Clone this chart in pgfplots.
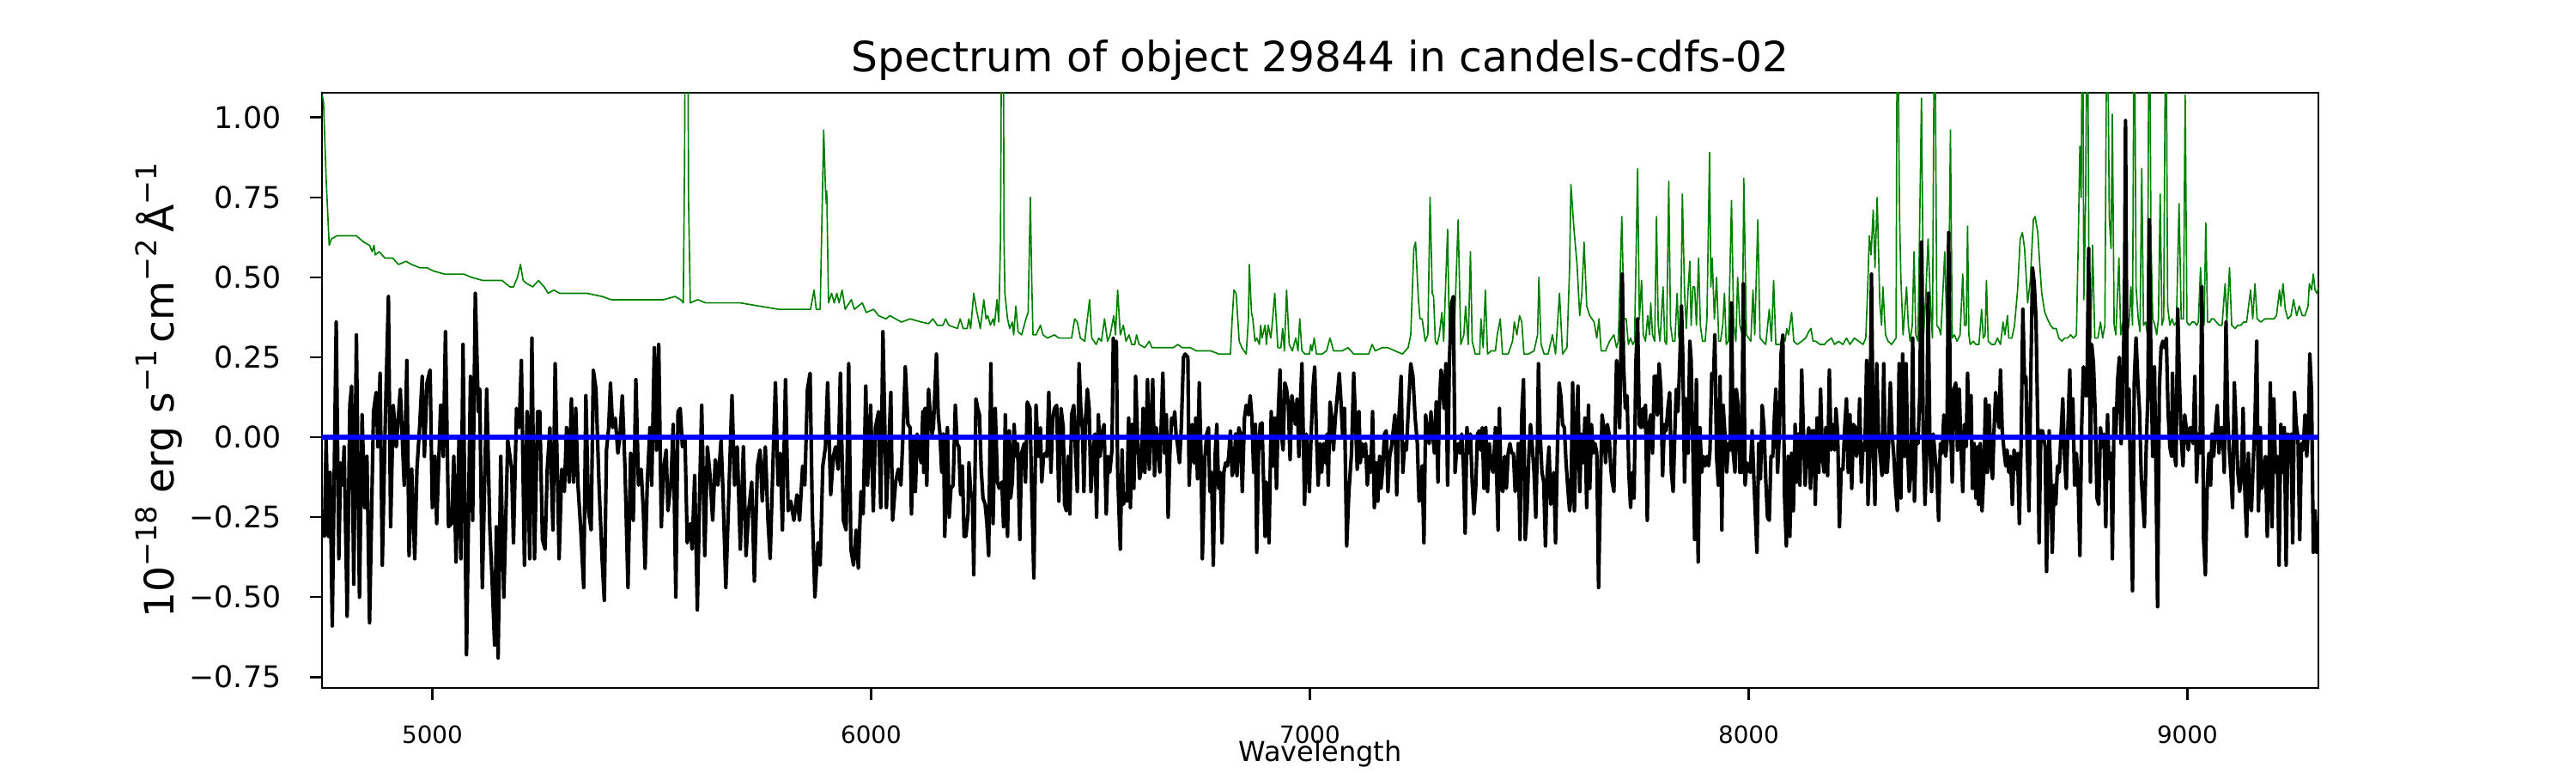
\documentclass[border=0pt]{standalone}
\usepackage{pgfplots}
\pgfplotsset{compat=1.18}
\usepackage{fontspec}
\setmainfont{DejaVu Sans}
\definecolor{mplgreen}{RGB}{0,128,0}
\newcommand\sups[1]{\raisebox{0.42em}{\fontsize{12}{14}\selectfont #1}}
\begin{document}
\begin{tikzpicture}
\useasboundingbox (0,0) rectangle (1080pt,324pt);
\begin{axis}[
 at={(135pt,35.64pt)}, anchor=south west,
 scale only axis, width=837pt, height=249.48pt,
 xmin=4748.6, xmax=9298.6, ymin=-0.784, ymax=1.077,
 xtick={5000,6000,7000,8000,9000}, xticklabels={5000,6000,7000,8000,9000},
 ytick={-0.75,-0.5,-0.25,0,0.25,0.5,0.75,1},
 yticklabels={−0.75,−0.50,−0.25,0.00,0.25,0.50,0.75,1.00},
 tick pos=left, tick align=outside, major tick length=5pt,
 tick style={black, line width=0.9pt},
 axis line style={line width=0.9pt},
 minor tick num=0,
 xticklabel style={font=\fontsize{10}{12}\selectfont, anchor=base, inner sep=0pt, yshift=-18.2pt},
 yticklabel style={font=\fontsize{12.5}{15}\selectfont, anchor=east, inner sep=0pt, xshift=-12pt},
 title={Spectrum of object 29844 in candels-cdfs-02},
 every axis title/.style={at={(axis description cs:0.5,1.036)}, anchor=base, font=\fontsize{17.5}{21}\selectfont, inner sep=0pt},
 xlabel={Wavelength},
 every axis x label/.style={at={(axis description cs:0.5,-0.1239)}, anchor=base, font=\fontsize{11.5}{14}\selectfont, inner sep=0pt},
 ylabel={10\sups{−18} erg s\sups{−1}\,cm\sups{−2}\,Å\sups{−1}},
 every axis y label/.style={at={(axis description cs:-0.0741,0.5)}, rotate=90, anchor=base, font=\fontsize{17}{20}\selectfont, inner sep=0pt},
 clip=true,
]
% sky / noise (green)
\addplot[mplgreen, line width=0.6pt, line join=round] coordinates {
(4749,1.07)(4752,1.05)(4758,0.81)(4765,0.60)(4770,0.62)(4783,0.63)(4800,0.63)(4813,0.63)(4827,0.63)(4835,0.62)(4844,0.61)(4857,0.60)(4863,0.58)(4867,0.60)(4870,0.57)(4879,0.58)(4892,0.56)(4910,0.56)(4923,0.54)(4940,0.55)(4953,0.54)(4971,0.53)(4988,0.53)(5002,0.52)(5028,0.51)(5045,0.51)(5072,0.51)(5089,0.50)(5115,0.49)(5142,0.49)(5159,0.49)(5168,0.48)(5177,0.47)(5185,0.47)(5194,0.50)(5201,0.54)(5207,0.49)(5216,0.48)(5229,0.47)(5242,0.49)(5255,0.47)(5264,0.45)(5277,0.46)(5290,0.45)(5317,0.45)(5352,0.45)(5387,0.44)(5408,0.43)(5439,0.43)(5483,0.43)(5527,0.43)(5553,0.44)(5566,0.43)(5572,0.42)(5575,0.87)(5577,1.5)(5582,1.5)(5584,0.74)(5588,0.42)(5605,0.43)(5623,0.42)(5649,0.42)(5675,0.42)(5702,0.42)(5745,0.41)(5789,0.40)(5833,0.40)(5862,0.40)(5870,0.46)(5875,0.40)(5884,0.40)(5892,0.96)(5896,0.78)(5898,0.73)(5899,0.77)(5903,0.42)(5910,0.45)(5916,0.42)(5922,0.45)(5927,0.42)(5934,0.46)(5941,0.40)(5955,0.43)(5962,0.40)(5980,0.42)(5989,0.39)(6006,0.40)(6017,0.38)(6034,0.37)(6043,0.38)(6069,0.36)
(6089,0.37)(6115,0.36)(6131,0.355)(6141,0.37)(6151,0.35)(6164,0.35)(6170,0.37)(6177,0.35)(6197,0.34)(6203,0.37)(6210,0.34)(6219,0.34)(6223,0.37)(6227,0.34)(6234,0.45)(6240,0.40)(6249,0.34)(6257,0.43)(6262,0.37)(6266,0.38)(6272,0.35)(6278,0.37)(6281,0.35)(6287,0.43)(6291,0.36)(6295,0.62)(6298,1.5)(6301,1.5)(6303,0.62)(6305,0.45)(6311,0.37)(6316,0.34)(6322,0.36)(6325,0.32)(6330,0.41)(6335,0.33)(6343,0.32)(6353,0.37)(6358,0.39)(6363,0.75)(6366,0.50)(6369,0.32)(6376,0.32)(6386,0.35)(6392,0.32)(6402,0.31)(6418,0.32)(6428,0.31)(6448,0.31)(6457,0.31)(6464,0.37)(6470,0.36)(6477,0.31)(6487,0.30)(6498,0.43)(6503,0.31)(6513,0.29)(6519,0.31)(6525,0.30)(6532,0.37)(6539,0.30)(6545,0.32)(6553,0.38)(6557,0.32)(6562,0.46)(6568,0.32)(6575,0.35)(6581,0.30)(6588,0.32)(6594,0.29)(6601,0.29)(6605,0.32)(6611,0.29)(6624,0.28)(6634,0.30)(6640,0.28)(6663,0.28)(6689,0.28)(6699,0.29)(6709,0.28)(6728,0.28)(6741,0.27)(6774,0.27)(6793,0.26)(6819,0.26)(6823,0.37)(6827,0.46)(6832,0.45)(6839,0.30)(6845,0.28)(6855,0.26)(6860,0.37)(6862,0.54)(6867,0.39)(6870,0.37)(6875,0.30)(6879,0.31)(6885,0.29)(6888,0.35)
(6891,0.31)(6898,0.35)(6901,0.29)(6905,0.35)(6911,0.31)(6914,0.35)(6920,0.45)(6927,0.28)(6934,0.28)(6938,0.34)(6942,0.27)(6947,0.46)(6953,0.29)(6960,0.27)(6968,0.31)(6973,0.27)(6977,0.37)(6982,0.27)(6989,0.26)(6999,0.26)(7002,0.29)(7005,0.27)(7010,0.31)(7015,0.26)(7028,0.26)(7038,0.27)(7046,0.31)(7054,0.27)(7064,0.27)(7074,0.27)(7087,0.28)(7100,0.26)(7119,0.26)(7134,0.26)(7142,0.29)(7149,0.27)(7165,0.28)(7178,0.28)(7194,0.27)(7211,0.26)(7224,0.28)(7230,0.32)(7237,0.59)(7241,0.61)(7247,0.44)(7251,0.37)(7256,0.37)(7263,0.30)(7269,0.32)(7274,0.75)(7279,0.45)(7282,0.44)(7286,0.30)(7290,0.29)(7295,0.32)(7301,0.39)(7305,0.30)(7314,0.65)(7318,0.30)(7325,0.29)(7329,0.32)(7338,0.68)(7344,0.29)(7351,0.32)(7355,0.41)(7361,0.29)(7366,0.58)(7370,0.30)(7377,0.26)(7387,0.26)(7390,0.37)(7395,0.28)(7400,0.46)(7405,0.26)(7413,0.27)(7423,0.27)(7427,0.32)(7434,0.37)(7439,0.26)(7452,0.26)(7462,0.30)(7466,0.36)(7472,0.32)(7478,0.38)(7483,0.36)(7488,0.26)(7498,0.26)(7511,0.27)(7519,0.32)(7522,0.50)(7527,0.29)(7534,0.26)(7543,0.26)(7553,0.32)(7560,0.26)(7569,0.45)(7576,0.26)(7586,0.28)(7592,0.53)(7595,0.79)(7602,0.65)(7609,0.54)(7615,0.38)(7620,0.45)(7625,0.61)(7631,0.41)(7638,0.38)(7648,0.36)(7654,0.31)(7659,0.37)(7664,0.27)(7674,0.27)(7683,0.30)
(7693,0.32)(7699,0.28)(7703,0.30)(7711,0.69)(7716,0.37)(7721,0.37)(7726,0.29)(7731,0.31)(7736,0.29)(7740,0.30)(7747,0.84)(7751,0.37)(7756,0.49)(7760,0.32)(7765,0.30)(7770,0.38)(7774,0.32)(7777,0.42)(7781,0.32)(7786,0.30)(7790,0.69)(7794,0.35)(7798,0.30)(7801,0.37)(7805,0.47)(7809,0.30)(7813,0.29)(7818,0.80)(7822,0.35)(7827,0.30)(7832,0.30)(7837,0.45)(7841,0.31)(7845,0.32)(7849,0.76)(7854,0.45)(7858,0.34)(7862,0.46)(7866,0.55)(7869,0.35)(7873,0.47)(7877,0.47)(7881,0.35)(7886,0.56)(7890,0.35)(7895,0.30)(7901,0.30)(7905,0.37)(7911,0.89)(7914,0.47)(7917,0.56)(7922,0.37)(7927,0.50)(7932,0.30)(7936,0.30)(7941,0.35)(7945,0.45)(7949,0.29)(7954,0.30)(7961,0.74)(7966,0.35)(7971,0.30)(7975,0.50)(7980,0.35)(7986,0.32)(7989,0.81)(7995,0.32)(8000,0.31)(8005,0.30)(8010,0.46)(8014,0.32)(8021,0.68)(8026,0.31)(8032,0.30)(8039,0.29)(8047,0.40)(8052,0.30)(8057,0.49)(8062,0.29)(8072,0.29)(8078,0.32)(8083,0.30)(8087,0.34)(8091,0.32)(8098,0.39)(8103,0.30)(8111,0.29)(8121,0.30)(8130,0.31)(8137,0.33)(8142,0.34)(8147,0.30)(8153,0.30)(8163,0.29)(8173,0.29)(8179,0.30)(8189,0.31)(8196,0.29)(8205,0.30)(8215,0.29)(8223,0.31)(8231,0.29)(8241,0.31)(8251,0.30)(8261,0.29)(8267,0.31)(8271,0.45)(8275,0.63)(8279,0.57)(8284,0.71)(8288,0.53)(8293,0.75)(8299,0.42)(8303,0.35)(8306,0.47)(8312,0.32)(8318,0.30)(8326,0.29)(8336,0.31)(8339,1.5)(8344,0.69)(8347,0.50)(8352,0.32)(8360,0.47)(8364,0.35)(8368,0.30)(8373,0.35)(8377,0.58)(8381,0.32)(8386,0.30)(8394,1.06)(8399,0.32)(8404,0.45)(8409,0.62)(8415,0.40)(8419,0.31)(8424,1.5)(8429,0.35)(8434,0.34)(8438,0.32)(8443,0.46)(8447,0.58)(8451,0.38)(8455,0.30)(8460,0.96)(8464,0.31)(8469,0.32)(8475,0.30)(8482,0.32)(8488,0.51)(8492,0.35)
(8496,0.35)(8499,0.66)(8502,0.32)(8505,0.29)(8512,0.30)(8518,0.29)(8525,0.29)(8531,0.40)(8535,0.31)(8539,0.32)(8542,0.49)(8546,0.30)(8554,0.29)(8561,0.29)(8567,0.31)(8574,0.29)(8580,0.36)(8584,0.32)(8590,0.38)(8593,0.31)(8600,0.31)(8606,0.35)(8613,0.46)(8619,0.62)(8624,0.64)(8629,0.59)(8636,0.42)(8642,0.49)(8649,0.68)(8653,0.69)(8659,0.64)(8664,0.53)(8668,0.45)(8675,0.39)(8681,0.37)(8688,0.35)(8694,0.34)(8701,0.34)(8707,0.31)(8714,0.30)(8720,0.31)(8727,0.31)(8734,0.32)(8740,0.31)(8747,0.32)(8751,0.59)(8755,0.91)(8758,0.75)(8761,1.5)(8764,0.43)(8768,0.74)(8772,1.5)(8776,0.42)(8780,0.31)(8784,0.60)(8789,0.31)(8796,0.31)(8802,0.36)(8807,0.31)(8812,0.35)(8817,1.5)(8822,0.69)(8826,0.59)(8829,1.01)(8833,0.35)(8837,0.32)(8844,0.56)(8848,0.32)(8853,0.36)(8858,0.35)(8862,0.32)(8867,0.35)(8871,0.47)(8875,0.35)(8879,1.5)(8883,0.47)(8888,0.37)(8892,0.33)(8896,0.84)(8900,0.35)(8905,0.36)(8909,0.32)(8913,1.5)(8917,0.62)(8921,0.37)(8926,0.35)(8930,0.32)(8934,0.37)(8938,0.76)(8942,0.35)(8946,0.37)(8951,1.5)(8955,0.41)(8960,0.35)(8965,0.37)(8970,0.35)(8975,0.36)(8981,0.73)(8986,0.37)(8991,0.37)(8995,1.07)(8999,0.36)(9004,0.35)(9011,0.36)(9016,0.36)(9021,0.35)(9025,0.36)(9030,0.53)(9034,0.42)(9038,0.35)(9042,0.67)(9046,0.36)(9051,0.36)(9055,0.37)(9060,0.37)(9066,0.36)(9073,0.35)(9079,0.35)(9086,0.48)(9090,0.36)(9096,0.53)(9101,0.35)(9109,0.34)(9115,0.35)(9122,0.35)(9128,0.36)(9135,0.36)(9144,0.46)(9149,0.37)(9154,0.48)(9159,0.37)(9167,0.36)(9177,0.37)(9187,0.37)(9197,0.37)(9203,0.38)(9210,0.46)(9213,0.41)(9218,0.48)(9223,0.40)(9229,0.37)(9236,0.38)(9242,0.43)(9249,0.38)(9255,0.41)(9262,0.38)(9268,0.38)(9275,0.41)(9278,0.48)(9283,0.46)(9287,0.51)(9291,0.46)(9295,0.45)(9299,0.47)
};
% flux (black)
\addplot[black, line width=1.5pt, line join=round] coordinates {
(4749,-0.29)(4754,-0.31)(4758,-0.01)(4763,-0.31)(4767,-0.11)(4772,-0.59)(4781,0.36)(4787,-0.38)(4791,-0.08)(4796,-0.15)(4799,-0.03)(4806,-0.56)(4812,0.10)(4816,0.16)(4821,-0.46)(4827,0.32)(4834,-0.50)(4840,0.07)(4846,-0.22)(4851,-0.06)(4857,-0.58)(4866,0.08)(4872,0.14)(4876,-0.03)(4881,0.20)(4886,-0.40)(4893,0.06)(4900,0.44)(4905,-0.28)(4911,0.10)(4918,-0.03)(4927,0.15)(4936,-0.15)(4942,0.24)(4947,-0.37)(4953,-0.10)(4960,-0.38)(4965,-0.10)(4971,0.03)(4977,0.19)(4982,-0.06)(4988,0.17)(4995,0.21)(5000,-0.22)(5006,-0.06)(5010,-0.27)(5019,0.10)(5025,-0.06)(5030,0.33)(5037,-0.28)(5044,-0.27)(5049,-0.06)(5054,-0.39)(5061,0.00)(5065,-0.38)(5070,0.29)(5078,-0.68)(5087,0.19)(5092,-0.26)(5098,0.45)(5105,0.08)(5108,0.15)(5114,-0.47)(5124,0.15)(5131,-0.28)(5137,-0.47)(5142,-0.65)(5146,-0.28)(5150,-0.69)(5156,-0.06)(5163,-0.50)(5172,-0.01)(5181,-0.10)(5185,-0.33)(5192,0.09)(5198,0.03)(5203,0.24)(5210,-0.40)(5216,0.08)(5222,-0.38)(5227,0.31)(5233,-0.38)(5240,0.08)(5245,0.08)(5251,-0.32)(5257,-0.35)(5262,-0.10)(5268,0.03)(5275,-0.29)(5280,0.23)(5289,-0.38)(5295,-0.10)(5301,-0.17)(5306,0.03)(5312,-0.14)(5317,0.12)(5322,-0.14)(5327,0.09)(5332,-0.15)(5338,-0.28)(5345,-0.47)(5350,0.13)(5356,-0.23)(5362,-0.29)(5367,0.21)(5373,0.15)(5380,-0.15)(5387,-0.38)(5392,-0.51)(5397,-0.04)(5402,0.03)(5406,0.17)(5411,0.03)(5417,0.06)(5423,-0.05)(5428,0.01)(5433,0.13)(5439,-0.09)(5446,-0.47)(5452,-0.05)(5458,-0.26)(5464,0.18)(5470,-0.15)(5476,-0.10)(5481,-0.23)(5485,-0.41)(5490,-0.14)(5496,0.03)(5500,-0.15)(5506,0.28)(5511,-0.04)(5516,0.29)(5522,-0.28)(5527,-0.10)(5533,-0.04)(5537,-0.23)(5544,-0.14)(5549,0.04)(5555,-0.50)(5560,0.08)(5565,0.09)(5570,-0.03)(5576,-0.01)(5581,-0.33)(5588,-0.27)(5592,-0.35)(5598,-0.12)(5604,-0.54)(5610,-0.13)(5614,0.10)(5621,-0.37)(5627,-0.03)(5633,-0.12)(5639,-0.26)(5645,-0.07)(5651,-0.15)(5658,-0.01)(5662,-0.15)(5669,-0.47)(5676,-0.17)(5683,0.13)(5689,-0.15)(5695,-0.03)(5702,-0.35)(5709,-0.03)(5715,-0.37)(5721,-0.23)(5728,-0.14)(5734,-0.45)(5741,-0.09)(5747,-0.04)(5752,-0.20)(5759,-0.03)(5765,-0.26)(5770,-0.38)(5776,-0.10)(5782,0.17)(5788,-0.15)(5793,-0.05)(5798,-0.29)(5805,0.18)(5811,-0.23)(5817,-0.20)(5824,-0.26)(5831,-0.18)(5837,-0.26)(5844,-0.09)(5849,-0.15)(5855,0.15)(5861,0.20)(5866,-0.23)(5872,-0.50)(5879,-0.33)(5884,-0.40)(5890,-0.09)(5896,-0.03)(5901,0.17)(5908,-0.18)(5914,-0.06)(5919,-0.03)(5925,-0.10)(5930,0.20)(5937,-0.26)(5943,-0.29)(5949,0.23)(5954,-0.35)(5960,-0.40)(5966,-0.29)(5971,-0.41)(5977,-0.17)(5982,-0.24)(5988,0.16)(5992,-0.15)(5999,0.10)(6005,-0.23)(6010,0.03)(6017,0.08)(6022,-0.22)(6027,0.33)(6035,-0.22)(6041,-0.01)(6045,0.14)(6049,-0.26)(6056,-0.14)(6062,-0.10)(6068,-0.15)(6074,0.05)(6078,0.22)(6084,0.04)
(6089,0.03)(6092,-0.24)(6097,0.00)(6101,-0.17)(6105,0.01)(6110,-0.04)(6114,-0.08)(6118,0.08)(6120,-0.11)(6123,0.09)(6127,-0.15)(6131,0.15)(6135,0.07)(6139,0.01)(6142,0.03)(6149,0.26)(6153,0.07)(6157,0.01)(6161,-0.11)(6165,0.01)(6168,-0.31)(6174,0.03)(6178,-0.25)(6182,-0.16)(6187,-0.15)(6192,0.10)(6196,-0.02)(6200,-0.03)(6204,-0.18)(6208,-0.09)(6212,-0.31)(6216,-0.31)(6221,-0.24)(6223,-0.08)(6227,-0.17)(6231,-0.19)(6234,-0.43)(6239,0.12)(6243,0.09)(6247,0.07)(6251,-0.10)(6255,-0.19)(6260,-0.21)(6264,-0.27)(6268,-0.37)(6273,0.23)(6278,-0.27)(6283,0.09)(6288,-0.14)(6292,-0.16)(6298,-0.14)(6302,-0.28)(6306,0.07)(6311,-0.31)(6315,0.02)(6318,-0.19)(6322,-0.14)(6326,0.04)(6330,-0.06)(6334,-0.02)(6339,-0.32)(6343,-0.05)(6349,-0.02)(6352,-0.14)(6356,0.11)(6362,0.09)(6366,-0.16)(6371,-0.44)(6376,0.10)(6381,-0.06)(6386,0.03)(6389,-0.14)(6393,-0.06)(6397,-0.05)(6401,-0.06)(6405,0.14)(6410,-0.11)(6414,0.06)(6418,0.09)(6423,0.10)(6428,-0.20)(6433,0.09)(6438,0.03)(6441,-0.21)(6445,-0.23)(6449,-0.06)(6453,-0.24)(6457,0.07)(6462,0.10)(6466,-0.05)(6470,-0.17)(6474,0.23)(6478,0.09)(6482,0.02)(6485,-0.17)(6489,0.06)(6493,0.15)(6497,0.09)(6501,-0.17)(6506,-0.05)(6510,0.01)(6514,-0.25)(6518,0.07)(6522,-0.06)(6526,0.01)(6531,0.04)(6536,-0.24)(6540,-0.06)(6544,-0.11)(6549,-0.04)(6552,0.31)(6556,0.25)(6559,0.30)(6562,-0.11)(6568,-0.35)(6572,-0.04)(6575,-0.21)(6579,-0.19)(6583,-0.20)(6587,0.06)(6591,-0.22)(6595,0.04)(6599,-0.16)(6603,0.19)(6607,0.01)(6612,-0.13)(6616,-0.10)(6620,0.09)(6624,-0.11)(6628,0.06)(6630,0.18)(6634,-0.10)(6638,0.04)(6642,0.18)(6646,-0.12)(6650,0.03)(6654,-0.02)(6658,-0.11)(6662,0.07)(6665,0.20)(6669,-0.05)(6673,0.07)(6677,-0.25)(6681,-0.05)(6685,0.06)(6689,0.04)(6692,0.08)(6695,0.01)(6699,-0.03)(6703,-0.08)(6707,0.03)(6712,0.25)(6716,0.26)(6722,0.25)(6725,-0.15)(6728,-0.04)(6732,0.04)(6736,-0.08)(6740,0.06)(6744,-0.13)(6748,0.17)(6752,-0.06)(6755,-0.38)(6761,-0.06)(6765,0.01)(6769,0.03)(6772,-0.17)(6776,-0.11)(6780,-0.40)(6784,-0.06)(6788,0.04)(6792,-0.16)(6796,-0.11)(6800,-0.33)(6804,-0.11)(6808,-0.08)(6812,-0.09)(6815,-0.06)(6819,0.02)(6823,-0.12)(6827,-0.10)(6831,0.01)(6834,-0.12)(6838,0.03)(6842,0.01)(6846,-0.17)(6851,0.06)(6855,0.10)(6860,0.07)(6864,0.13)(6868,0.06)(6872,-0.11)(6876,0.04)(6879,-0.36)(6883,-0.05)(6887,0.04)
(6891,0.045)(6894,-0.11)(6898,-0.31)(6901,-0.14)(6904,-0.17)(6907,-0.33)(6912,0.08)(6916,-0.09)(6920,0.06)(6924,-0.16)(6928,0.08)(6932,0.21)(6935,0.01)(6939,-0.04)(6943,0.17)(6947,0.15)(6951,0.10)(6955,-0.07)(6959,0.13)(6963,0.09)(6967,0.04)(6971,0.12)(6975,-0.06)(6979,0.13)(6982,0.23)(6988,-0.21)(6992,0.01)(6995,-0.05)(6999,-0.17)(7003,0.01)(7007,0.15)(7011,0.22)(7015,0.01)(7019,-0.15)(7023,-0.02)(7027,-0.11)(7031,-0.02)(7035,-0.08)(7039,0.01)(7042,-0.15)(7046,0.11)(7050,0.06)(7054,-0.04)(7058,0.06)(7062,0.12)(7067,0.20)(7071,0.11)(7075,0.00)(7079,0.09)(7084,-0.34)(7089,-0.17)(7095,-0.05)(7100,0.20)(7104,0.05)(7108,-0.10)(7112,0.08)(7115,-0.08)(7119,-0.02)(7123,-0.06)(7127,-0.02)(7131,-0.15)(7135,-0.06)(7139,-0.11)(7143,0.08)(7147,-0.22)(7151,-0.08)(7155,-0.20)(7159,-0.06)(7162,-0.16)(7166,-0.10)(7170,0.01)(7174,0.02)(7178,-0.17)(7182,-0.06)(7186,-0.03)(7190,0.02)(7194,0.07)(7198,-0.18)(7203,0.06)(7208,0.19)(7212,-0.11)(7216,-0.02)(7220,-0.04)(7225,0.10)(7230,0.23)(7235,0.19)(7240,0.06)(7245,-0.02)(7249,-0.20)(7253,-0.19)(7256,-0.09)(7260,-0.33)(7264,0.07)(7268,0.01)(7272,-0.02)(7276,0.08)(7280,0.01)(7284,-0.05)(7288,0.11)(7292,-0.14)(7295,0.09)(7299,0.21)(7302,0.18)(7306,0.09)(7310,0.23)(7314,-0.15)(7318,0.24)(7323,0.42)(7327,0.44)(7331,-0.11)(7335,-0.03)(7339,-0.02)(7342,-0.05)(7346,0.01)(7350,-0.09)(7354,-0.30)(7358,0.03)(7362,-0.05)(7366,0.01)(7370,-0.14)(7374,-0.24)(7378,-0.16)(7382,0.01)(7386,0.02)(7389,-0.04)(7393,0.03)(7397,-0.16)(7401,0.03)(7405,-0.17)(7409,-0.02)(7413,-0.09)(7418,-0.11)(7423,0.03)(7429,-0.29)(7432,0.09)(7436,-0.16)(7440,-0.17)(7444,-0.06)(7448,-0.16)(7452,-0.05)(7456,-0.02)(7460,-0.05)(7464,-0.05)(7468,-0.17)(7472,-0.12)(7475,-0.02)(7479,-0.32)(7483,0.07)(7487,0.18)(7491,-0.32)(7495,-0.23)(7499,-0.06)(7503,0.04)(7507,-0.03)(7511,-0.11)(7515,-0.25)(7519,0.01)(7521,0.23)(7525,0.01)(7529,-0.11)(7533,-0.14)(7537,-0.34)(7541,-0.11)(7545,-0.03)(7549,-0.21)(7552,-0.15)(7556,-0.11)(7560,-0.33)(7564,-0.05)(7568,0.17)(7572,0.13)(7576,0.04)(7580,0.03)(7584,-0.08)(7588,-0.16)(7592,-0.23)(7595,-0.19)(7599,0.17)(7603,-0.23)(7607,0.01)(7611,0.16)(7615,-0.17)(7619,0.01)(7623,-0.08)(7627,0.06)(7631,-0.22)(7635,0.10)(7638,-0.16)(7642,0.04)(7646,-0.05)(7650,-0.02)(7654,-0.05)(7658,-0.47)(7662,-0.17)(7666,0.07)(7670,0.03)(7674,-0.08)(7678,0.04)(7682,0.01)(7686,-0.10)(7689,-0.14)
(7693,-0.17)(7699,0.24)(7702,0.20)(7706,0.03)(7712,0.51)(7715,0.23)(7719,0.09)(7723,0.13)(7727,-0.11)(7731,-0.22)(7735,-0.11)(7739,-0.19)(7743,0.23)(7747,0.37)(7751,0.04)(7755,0.03)(7759,0.09)(7762,0.03)(7765,0.10)(7769,-0.26)(7773,0.04)(7777,0.07)(7781,-0.05)(7785,0.19)(7789,0.19)(7792,0.07)(7796,0.23)(7800,0.15)(7804,-0.12)(7808,0.04)(7812,0.02)(7816,0.09)(7820,0.14)(7824,-0.11)(7828,-0.17)(7832,0.02)(7835,0.15)(7839,0.08)(7843,0.23)(7847,0.41)(7850,0.25)(7854,-0.14)(7858,0.12)(7862,-0.05)(7866,0.30)(7869,0.24)(7873,-0.04)(7877,-0.32)(7881,0.18)(7885,-0.39)(7889,0.03)(7893,-0.11)(7897,-0.06)(7901,-0.09)(7905,-0.06)(7909,-0.09)(7912,-0.04)(7916,0.20)(7920,0.18)(7923,0.32)(7927,-0.06)(7931,-0.15)(7935,0.19)(7939,-0.29)(7942,0.10)(7946,0.01)(7950,-0.11)(7954,-0.02)(7958,-0.04)(7961,0.42)(7965,-0.05)(7969,-0.11)(7972,0.15)(7976,0.10)(7980,-0.11)(7984,-0.11)(7988,0.48)(7992,-0.15)(7996,-0.08)(8000,-0.10)(8004,-0.11)(8008,0.02)(8012,-0.13)(8015,-0.23)(8019,-0.36)(8023,-0.02)(8027,-0.13)(8031,0.10)(8035,0.03)(8039,-0.13)(8043,-0.25)(8047,-0.26)(8051,-0.06)(8055,-0.06)(8059,0.07)(8062,0.15)(8066,-0.11)(8070,0.01)(8074,0.26)(8078,0.32)(8082,-0.19)(8086,-0.34)(8090,-0.06)(8094,-0.31)(8098,-0.05)(8102,-0.23)(8106,0.04)(8109,-0.14)(8113,0.01)(8117,-0.15)(8121,0.21)(8125,0.01)(8129,-0.15)(8133,-0.02)(8137,0.03)(8141,-0.16)(8145,0.02)(8149,0.02)(8152,-0.21)(8156,0.06)(8160,-0.11)(8164,0.15)(8168,-0.06)(8172,-0.11)(8176,0.03)(8180,-0.12)(8184,0.21)(8188,-0.04)(8192,0.04)(8196,-0.04)(8199,0.09)(8203,0.01)(8207,-0.28)(8211,-0.10)(8215,-0.10)(8219,0.03)(8223,0.12)(8227,-0.11)(8231,0.07)(8235,-0.16)(8239,0.04)(8243,0.03)(8246,-0.06)(8250,-0.02)(8253,0.12)(8257,-0.14)(8261,-0.02)(8265,-0.04)(8269,0.24)(8272,-0.21)(8276,-0.06)(8280,0.51)(8284,-0.03)(8288,-0.21)(8292,0.23)(8296,0.01)(8300,-0.06)(8304,-0.12)(8308,0.23)(8312,-0.11)(8316,-0.11)(8319,-0.02)(8323,0.17)(8327,0.01)(8331,-0.06)(8335,-0.16)(8339,-0.23)(8343,0.23)(8347,-0.19)(8351,0.26)(8355,-0.06)(8359,0.23)(8362,-0.02)(8366,-0.17)(8370,-0.11)(8374,0.31)(8378,-0.20)(8382,0.01)(8386,-0.02)(8390,0.13)(8394,0.61)(8398,0.01)(8402,-0.21)(8406,-0.04)(8409,0.45)(8413,0.00)(8417,-0.17)(8421,0.01)(8425,-0.06)(8429,-0.11)(8433,-0.26)(8437,-0.02)(8441,-0.05)(8445,0.07)(8449,-0.06)(8452,-0.02)(8456,0.64)(8460,0.06)(8464,-0.14)(8468,0.15)(8472,0.17)(8476,-0.04)(8480,0.15)(8484,-0.03)(8488,-0.17)(8492,0.04)
(8496,-0.03)(8499,0.20)(8503,0.01)(8507,0.13)(8510,-0.16)(8514,-0.02)(8518,-0.19)(8522,-0.03)(8524,-0.21)(8528,-0.02)(8532,-0.23)(8536,-0.11)(8540,0.12)(8544,-0.11)(8548,0.10)(8552,-0.08)(8556,-0.13)(8559,0.01)(8563,0.14)(8567,0.07)(8571,0.03)(8574,0.21)(8578,0.02)(8582,-0.04)(8586,-0.09)(8589,-0.04)(8593,-0.11)(8597,-0.06)(8601,-0.21)(8605,-0.04)(8609,-0.10)(8613,-0.05)(8617,-0.27)(8621,-0.02)(8625,0.40)(8629,0.17)(8632,0.19)(8635,-0.04)(8639,-0.23)(8643,0.18)(8647,0.53)(8651,0.48)(8655,0.37)(8659,0.03)(8662,-0.33)(8666,0.02)(8670,0.02)(8676,-0.03)(8679,-0.42)(8685,0.02)(8689,-0.14)(8692,-0.36)(8696,-0.15)(8700,-0.21)(8704,-0.09)(8708,-0.11)(8712,0.01)(8716,0.12)(8720,-0.06)(8724,-0.16)(8728,0.04)(8732,0.21)(8735,0.01)(8739,0.12)(8743,-0.15)(8747,-0.05)(8751,-0.14)(8755,-0.37)(8759,0.03)(8763,0.22)(8767,0.13)(8771,0.13)(8775,0.59)(8779,-0.14)(8782,0.29)(8786,0.23)(8790,0.07)(8794,-0.19)(8798,-0.21)(8802,0.03)(8806,-0.03)(8810,0.01)(8814,-0.28)(8818,0.07)(8822,-0.13)(8826,-0.05)(8829,-0.38)(8833,0.09)(8837,0.01)(8841,0.18)(8845,0.25)(8849,-0.02)(8853,0.10)(8857,0.50)(8859,0.99)(8863,0.01)(8867,0.15)(8871,-0.20)(8875,-0.48)(8879,0.18)(8883,0.31)(8887,0.18)(8891,0.08)(8895,-0.13)(8899,-0.21)(8902,-0.28)(8906,-0.04)(8910,0.13)(8913,0.68)(8917,0.23)(8921,-0.06)(8925,0.22)(8929,-0.17)(8932,-0.53)(8936,0.15)(8940,0.28)(8944,0.30)(8948,0.28)(8952,0.31)(8956,0.08)(8960,-0.03)(8964,-0.06)(8966,0.20)(8970,-0.05)(8974,-0.09)(8978,0.40)(8982,0.17)(8986,0.00)(8990,-0.09)(8994,0.07)(8998,0.02)(9002,-0.04)(9006,0.03)(9009,0.03)(9013,-0.02)(9017,0.19)(9021,-0.14)(9025,0.01)(9029,-0.05)(9033,0.47)(9037,-0.32)(9041,-0.43)(9045,-0.16)(9049,-0.05)(9053,-0.15)(9056,0.01)(9060,-0.06)(9064,0.03)(9068,0.10)(9072,-0.05)(9076,0.03)(9080,0.03)(9084,-0.11)(9088,0.36)(9092,0.06)(9096,-0.05)(9099,-0.11)(9103,-0.22)(9107,0.17)(9111,0.03)(9115,-0.11)(9119,-0.17)(9123,-0.13)(9127,0.09)(9131,-0.17)(9135,-0.31)(9139,-0.05)(9142,-0.19)(9146,-0.23)(9150,-0.08)(9154,0.05)(9158,0.30)(9162,-0.23)(9166,0.03)(9170,-0.16)(9174,-0.11)(9178,-0.06)(9182,-0.31)(9186,-0.12)(9189,0.17)(9193,-0.28)(9197,0.12)(9201,-0.11)(9205,-0.06)(9209,-0.40)(9213,0.04)(9217,-0.11)(9221,0.03)(9225,-0.40)(9229,0.01)(9232,-0.04)(9236,0.01)(9240,-0.33)(9244,0.14)(9248,0.04)(9252,0.00)(9256,-0.32)(9260,-0.02)(9264,-0.04)(9268,0.07)(9272,-0.06)(9276,0.03)(9279,0.26)(9283,0.14)(9287,-0.36)(9291,-0.23)(9295,-0.36)(9299,-0.36)
};
% zero line (blue)
\addplot[blue, line width=2pt] coordinates {(4700,0) (9400,0)};
\end{axis}
\end{tikzpicture}
\end{document}
